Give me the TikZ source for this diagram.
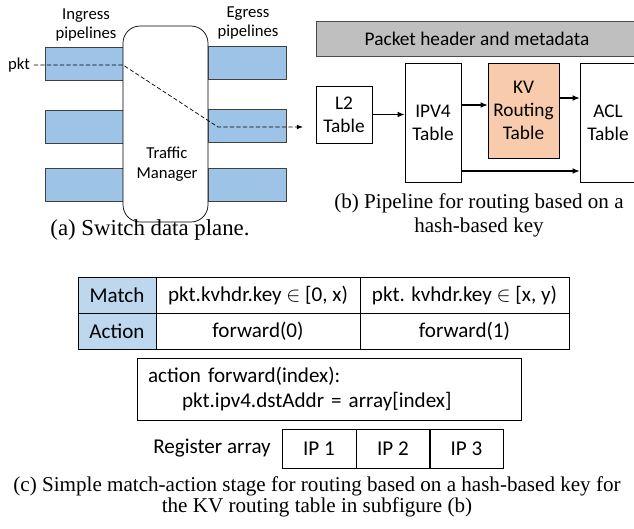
\documentclass[tikz,border=0pt]{standalone}
\usepackage{fontspec}
\setmainfont{Carlito}
\newfontfamily\capfont{Liberation Serif}
\usetikzlibrary{arrows.meta,positioning,calc}
\definecolor{pipeBlue}{HTML}{9DC3E6}
\definecolor{kvOrange}{HTML}{F8CBAD}
\definecolor{hdrGray}{HTML}{BFBFBF}
\definecolor{cellBlue}{HTML}{BDD7EE}

\begin{document}
\begin{tikzpicture}[x=0.02cm,y=-0.02cm,
  pipe/.style={draw=black!75,fill=pipeBlue,minimum width=1.56cm,minimum height=0.66cm,inner sep=0pt},
  small/.style={font=\fontsize{9.5}{11.3}\selectfont,align=center},
  tbl/.style={draw,minimum width=1.12cm,inner sep=1pt,align=center,font=\fontsize{11}{13}\selectfont},
  cell/.style={draw,minimum height=0.72cm,inner sep=0pt,font=\fontsize{12}{14}\selectfont},
  captext/.style={font=\capfont\fontsize{12}{13.5}\selectfont,align=center},
  flow/.style={-{Latex[length=4pt,width=3.2pt]},semithick}]
\clip (0,0) rectangle (634,528);
% (a) switch data plane
\foreach \y/\n in {63.5/1,126.5/2,185/3}
  \node[pipe] (in\n) at (84,\y) {};
\node[draw,fill=white,rounded corners=0.34cm,minimum width=1.7cm,minimum height=3.92cm] (tm) at (165.5,124) {};
\node[small] (tmlabel) at (167,164) {Traffic\\Manager};
\foreach \y/\n in {63/1,126/2,184.5/3}
  \node[pipe] (out\n) at (247,\y) {};
\node[small] (inlabel) at (86,25) {Ingress\\pipelines};
\node[small] (outlabel) at (248,23) {Egress\\pipelines};
\node[small,inner sep=2pt] (pkt) at (19,65) {pkt};
\coordinate (bendA) at (123,65);
\coordinate (bendB) at (218,127);
\coordinate (pktout) at (303,127);
\draw[dash pattern=on 2.4pt off 1.3pt,-{Latex[length=3.5pt,width=2.6pt]}] (pkt.east) -- (bendA) -- (bendB) -- (pktout);
\node[captext,font=\capfont\fontsize{13}{15}\selectfont] (capa) at (150,230) {(a) Switch data plane.};
% (b) pipeline
\node[draw=black!70,fill=hdrGray,minimum width=6.44cm,minimum height=0.7cm,font=\fontsize{11}{13}\selectfont] (hdr) at (477,38.5) {Packet header and metadata};
\node[tbl,minimum height=1.14cm] (l2) at (344,114.5) {L2\\Table};
\node[tbl,minimum height=2.38cm] (ipv4) at (433,122.5) {IPV4\\Table};
\node[tbl,fill=kvOrange,minimum width=1.42cm,minimum height=1.9cm] (kv) at (523.5,110.5) {KV\\Routing\\Table};
\node[tbl,minimum height=2.38cm] (acl) at (608,122.5) {ACL\\Table};
\draw[flow] (l2.east) -- (ipv4.west |- l2.east);
\draw[flow] (ipv4.east |- 0,105) -- (kv.west |- 0,105);
\draw[flow] (kv.east |- 0,98) -- (acl.west |- 0,98);
\draw[flow] (ipv4.east |- 0,171) -- (acl.west |- 0,171);
\node[captext] (capb) at (479,215) {(b) Pipeline for routing based on a\\hash-based key};
% (c) match-action stage
\node[cell,fill=cellBlue,minimum width=1.56cm] (match) at (117,295) {Match};
\node[cell,minimum width=4.08cm] (keyA) at (258,295) {pkt.kvhdr.key $\in$ [0, x)};
\node[cell,minimum width=4.18cm] (keyB) at (464.5,295) {pkt. kvhdr.key $\in$ [x, y)};
\node[cell,fill=cellBlue,minimum width=1.56cm] (action) at (117,331) {Action};
\node[cell,minimum width=4.08cm] (fwdA) at (258,331) {forward(0)};
\node[cell,minimum width=4.18cm] (fwdB) at (464.5,331) {forward(1)};
\node[draw,inner xsep=0.22cm,inner ysep=0pt,text width=7.24cm,minimum height=1.24cm,align=left,
  font=\fontsize{12}{14.2}\selectfont] (code) at (329,389)
  {action forward(index):\\\hspace*{0.68cm}pkt.ipv4.dstAddr = array[index]};
\node[font=\fontsize{12}{14}\selectfont] (reglabel) at (212,448) {Register array};
\foreach \i/\x in {1/319,2/393,3/466.5}
  \node[cell,minimum width=1.48cm,minimum height=0.78cm] (ip\i) at (\x,448.5) {IP \i};
\node[captext,font=\capfont\fontsize{12}{11}\selectfont] (capc) at (317,497) {(c) Simple match-action stage for routing based on a hash-based key for\\the KV routing table in subfigure (b)};
\end{tikzpicture}
\end{document}
